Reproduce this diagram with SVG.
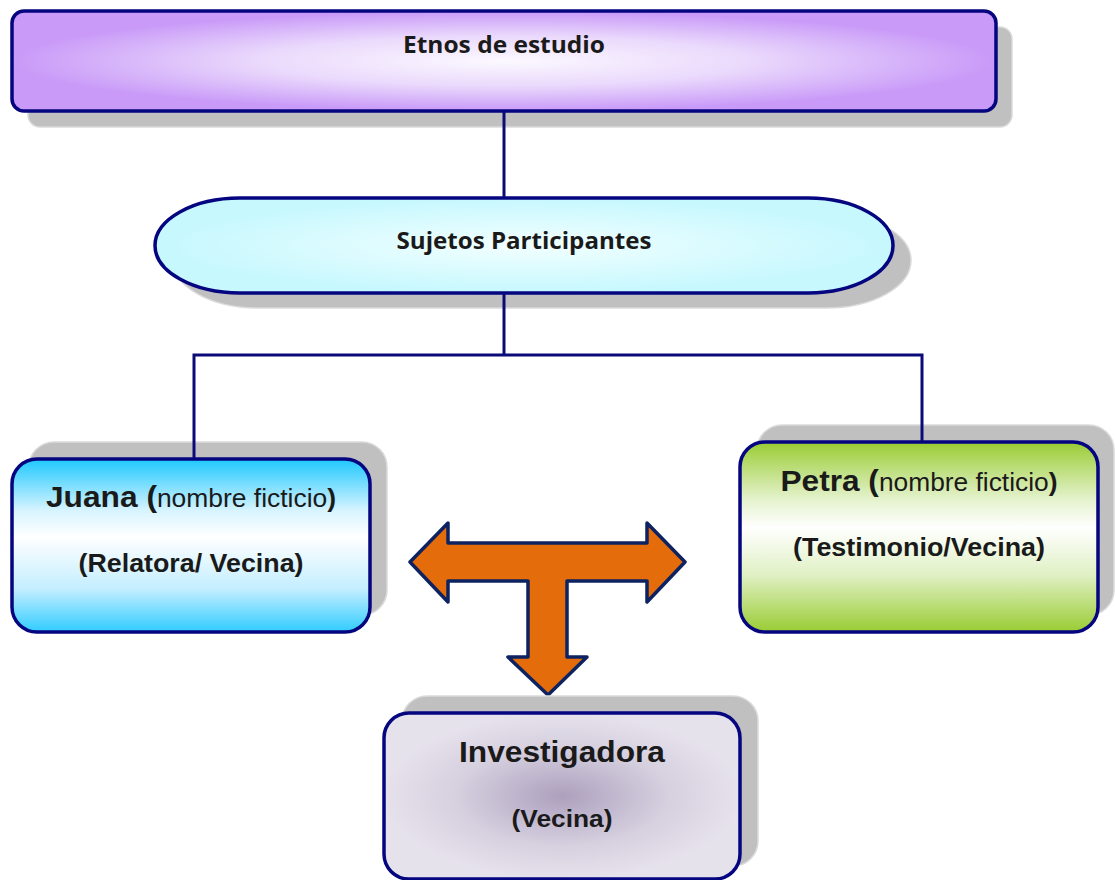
<svg xmlns="http://www.w3.org/2000/svg" width="1116" height="880" viewBox="0 0 1116 880">
<defs>
<radialGradient id="gTop" cx="0.5" cy="0.5" r="0.5">
<stop offset="0" stop-color="#fcf9ff"/>
<stop offset="0.5" stop-color="#ead9fc"/>
<stop offset="1" stop-color="#c99af8"/>
</radialGradient>
<radialGradient id="gEll" cx="0.5" cy="0.5" r="0.5">
<stop offset="0" stop-color="#f2ffff"/>
<stop offset="1" stop-color="#c6f8fe"/>
</radialGradient>
<linearGradient id="gJuana" x1="0" y1="0" x2="0" y2="1">
<stop offset="0" stop-color="#1ec8ff"/>
<stop offset="0.3" stop-color="#d8f4ff"/>
<stop offset="0.45" stop-color="#ffffff"/>
<stop offset="0.75" stop-color="#c4eeff"/>
<stop offset="1" stop-color="#30ccff"/>
</linearGradient>
<linearGradient id="gPetra" x1="0" y1="0" x2="0" y2="1">
<stop offset="0" stop-color="#99cc33"/>
<stop offset="0.3" stop-color="#e4f2cc"/>
<stop offset="0.45" stop-color="#ffffff"/>
<stop offset="0.7" stop-color="#e0f0c4"/>
<stop offset="1" stop-color="#99cc33"/>
</linearGradient>
<radialGradient id="gInv" cx="0.5" cy="0.5" r="0.5">
<stop offset="0" stop-color="#ada0be"/>
<stop offset="0.6" stop-color="#d6d0df"/>
<stop offset="1" stop-color="#e6e2ec"/>
</radialGradient>
<style>
.shadow{fill:#c0c0c0;stroke:#dadada;stroke-width:1.5}
.box{stroke:#050580;stroke-width:3.5}
.conn{fill:none;stroke:#0a0a78;stroke-width:3}
.cal{font-family:"Open Sans","Liberation Sans",sans-serif;font-weight:bold;fill:#1a1a1a}
.ar{font-family:"Liberation Sans",Arial,sans-serif;fill:#1a1a1a}
.b{font-weight:bold}
</style>
</defs>

<g id="etnos">
<rect class="shadow" x="28" y="27" width="984" height="100" rx="12"/>
<rect class="box" x="12" y="11" width="984" height="100" rx="12" fill="url(#gTop)"/>
<text class="cal" x="504" y="53" font-size="24" text-anchor="middle" textLength="202" lengthAdjust="spacingAndGlyphs">Etnos de estudio</text>
</g>

<g id="sujetos">
<rect class="shadow" x="173" y="213" width="738" height="95" rx="85" ry="47.5"/>
<rect class="box" x="155" y="198" width="738" height="95" rx="85" ry="47.5" fill="url(#gEll)"/>
<text class="cal" x="524" y="249" font-size="24" text-anchor="middle" textLength="255" lengthAdjust="spacingAndGlyphs">Sujetos Participantes</text>
</g>

<g id="juana">
<rect class="shadow" x="29" y="442" width="358" height="173" rx="25"/>
<rect class="box" x="12" y="459" width="358" height="173" rx="25" fill="url(#gJuana)"/>
<text class="ar" x="191" y="507" text-anchor="middle" textLength="290" lengthAdjust="spacingAndGlyphs"><tspan class="b" font-size="30">Juana (</tspan><tspan font-size="25">nombre ficticio</tspan><tspan class="b" font-size="25">)</tspan></text>
<text class="ar b" x="191" y="572" font-size="25" text-anchor="middle" textLength="225" lengthAdjust="spacingAndGlyphs">(Relatora/ Vecina)</text>
</g>

<g id="petra">
<rect class="shadow" x="757" y="425" width="357" height="190" rx="25"/>
<rect class="box" x="740" y="442" width="358" height="190" rx="25" fill="url(#gPetra)"/>
<text class="ar" x="919" y="491" text-anchor="middle" textLength="277" lengthAdjust="spacingAndGlyphs"><tspan class="b" font-size="30">Petra (</tspan><tspan font-size="25">nombre ficticio</tspan><tspan class="b" font-size="25">)</tspan></text>
<text class="ar b" x="919" y="556" font-size="25" text-anchor="middle" textLength="252" lengthAdjust="spacingAndGlyphs">(Testimonio/Vecina)</text>
</g>

<g id="flecha">
<polygon points="410,562 448,523 448,543 647,543 647,523 685,562 647,602 647,581 567,581 567,657 587,657 548,695 508,657 528,657 528,581 448,581 448,602" fill="#e46c0a" stroke="#0d2260" stroke-width="3.5" stroke-linejoin="round"/>
</g>

<g id="investigadora">
<rect class="shadow" x="402" y="696" width="356" height="170" rx="25"/>
<rect class="box" x="384" y="713" width="356" height="166" rx="25" fill="url(#gInv)"/>
<text class="ar b" x="562" y="762" font-size="29" text-anchor="middle" textLength="206" lengthAdjust="spacingAndGlyphs">Investigadora</text>
<text class="ar b" x="562" y="827" font-size="24" text-anchor="middle" textLength="101" lengthAdjust="spacingAndGlyphs">(Vecina)</text>
</g>

<g id="connectors">
<line class="conn" x1="504" y1="112" x2="504" y2="197"/>
<polyline class="conn" points="504,294 504,355"/>
<polyline class="conn" points="194,458 194,355 922,355 922,441"/>
</g>
</svg>
